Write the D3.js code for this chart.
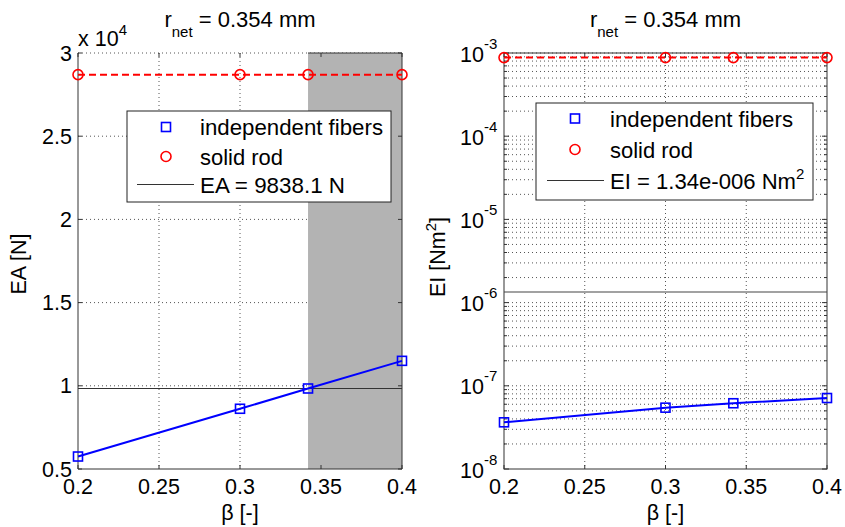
<!DOCTYPE html>
<html>
<head>
<meta charset="utf-8">
<script src="https://cdn.jsdelivr.net/npm/d3@7"></script>
<style>
  html, body { margin: 0; padding: 0; background: #fff; }
  svg { display: block; font-family: "Liberation Sans", Arial, Helvetica, sans-serif; }
</style>
</head>
<body>
<svg id="chart" width="845" height="527"></svg>
<script>
// Stiffness of a fibre bundle vs. packing parameter beta
const beta = [0.2, 0.3, 0.342, 0.4];
const eaFibers = [5750, 8620, 9838, 11500];
const eaRod = [28700, 28700, 28700, 28700];
const eaRef = 9838.1;
const eiFibers = [3.64e-8, 5.46e-8, 6.17e-8, 7.13e-8];
const eiRod = [8.8e-4, 8.8e-4, 8.8e-4, 8.8e-4];
const eiRef = 1.34e-6;
const shadeRange = [0.342, 0.4];
const xTicks = [0.2, 0.25, 0.3, 0.35, 0.4];
const xTickLabels = ["0.2", "0.25", "0.3", "0.35", "0.4"];
const eaTicks = [5000, 10000, 15000, 20000, 25000, 30000];
const eaTickLabels = ["0.5", "1", "1.5", "2", "2.5", "3"];
const eiDecades = [-8, -7, -6, -5, -4, -3];
const titleText = "r";
const titleSub = "net";
const titleRest = " = 0.354 mm";
const legendLabels = ["independent fibers", "solid rod"];

const svg = d3.select("#chart");
const FS = 21.5, FS_LEG = 22, FS_SMALL = 15;
const gridColor = "#555";
const boxColor = "#333";

const panels = [
  { x0: 78, x1: 402, y0: 53, y1: 469 },
  { x0: 504, x1: 827, y0: 53, y1: 469 }
];

function xScale(p) {
  return d3.scaleLinear().domain([0.2, 0.4]).range([p.x0, p.x1]);
}

function title(p) {
  const t = svg.append("text")
    .attr("x", (p.x0 + p.x1) / 2).attr("y", 27)
    .attr("text-anchor", "middle").attr("font-size", FS_LEG).attr("fill", "#000");
  t.append("tspan").text(titleText);
  t.append("tspan").attr("dy", 10).attr("font-size", FS_SMALL).text(titleSub);
  t.append("tspan").attr("dy", -10).text(titleRest);
}

function xGrid(p, x, g) {
  g.selectAll(".xgrid").data(xTicks.slice(1, -1)).join("line")
    .attr("x1", d => x(d)).attr("x2", d => x(d))
    .attr("y1", p.y0).attr("y2", p.y1)
    .attr("stroke", gridColor).attr("stroke-dasharray", "1,3");
}

function xLabels(p, x) {
  svg.append("g").selectAll("text").data(xTicks).join("text")
    .attr("x", d => x(d)).attr("y", 494)
    .attr("text-anchor", "middle").attr("font-size", FS)
    .text((d, i) => xTickLabels[i]);
  svg.append("text")
    .attr("x", (p.x0 + p.x1) / 2).attr("y", 520)
    .attr("text-anchor", "middle").attr("font-size", FS)
    .text("β [-]");
}

function xTickMarks(p, x, g) {
  xTicks.forEach(d => {
    g.append("line").attr("x1", x(d)).attr("x2", x(d)).attr("y1", p.y1).attr("y2", p.y1 - 4).attr("stroke", boxColor);
    g.append("line").attr("x1", x(d)).attr("x2", x(d)).attr("y1", p.y0).attr("y2", p.y0 + 4).attr("stroke", boxColor);
  });
}

function drawSeries(g, x, y, fibers, rod) {
  const line = d3.line().x((d, i) => x(beta[i])).y(d => y(d));
  g.append("path").datum(fibers).attr("d", line)
    .attr("fill", "none").attr("stroke", "#0000ff").attr("stroke-width", 2);
  g.selectAll(".sq").data(fibers).join("rect")
    .attr("x", (d, i) => x(beta[i]) - 4.5).attr("y", d => y(d) - 4.5)
    .attr("width", 9).attr("height", 9)
    .attr("fill", "none").attr("stroke", "#0000ff").attr("stroke-width", 1.6);
  g.append("path").datum(rod).attr("d", line)
    .attr("fill", "none").attr("stroke", "#ff0000").attr("stroke-width", 2)
    .attr("stroke-dasharray", "7,4");
  g.selectAll(".ci").data(rod).join("circle")
    .attr("cx", (d, i) => x(beta[i])).attr("cy", d => y(d)).attr("r", 5)
    .attr("fill", "none").attr("stroke", "#ff0000").attr("stroke-width", 1.6);
}

// legend entry widths (px) so the text fills the box as in the original layout
const legendWidths = [183, 83];

function legend(box, rows, refLabel, refSup, refWidth) {
  const g = svg.append("g");
  g.append("rect").attr("x", box.x).attr("y", box.y).attr("width", box.w).attr("height", box.h)
    .attr("fill", "#fff").attr("stroke", "#222").attr("stroke-width", 1);
  g.append("rect").attr("x", box.mx - 4.5).attr("y", rows[0] - 4.5).attr("width", 9).attr("height", 9)
    .attr("fill", "none").attr("stroke", "#0000ff").attr("stroke-width", 1.6);
  g.append("circle").attr("cx", box.mx).attr("cy", rows[1]).attr("r", 5)
    .attr("fill", "none").attr("stroke", "#ff0000").attr("stroke-width", 1.6);
  g.append("line").attr("x1", box.lx0).attr("x2", box.lx1).attr("y1", rows[2]).attr("y2", rows[2])
    .attr("stroke", "#333").attr("stroke-width", 1.2);
  legendLabels.forEach((s, i) => {
    g.append("text").attr("x", box.tx).attr("y", rows[i] + 8).attr("font-size", FS_LEG)
      .attr("textLength", legendWidths[i]).attr("lengthAdjust", "spacingAndGlyphs").text(s);
  });
  const t = g.append("text").attr("x", box.tx).attr("y", rows[2] + 8).attr("font-size", FS_LEG);
  t.append("tspan").attr("textLength", refWidth).attr("lengthAdjust", "spacingAndGlyphs").text(refLabel);
  if (refSup) t.append("tspan").attr("dy", -10).attr("font-size", FS_SMALL).text(refSup);
}

// ---------- left panel: axial stiffness ----------
{
  const p = panels[0];
  const x = xScale(p);
  const y = d3.scaleLinear().domain([5000, 30000]).range([p.y1, p.y0]);
  const g = svg.append("g");
  g.append("rect").attr("x", p.x0).attr("y", p.y0).attr("width", p.x1 - p.x0).attr("height", p.y1 - p.y0).attr("fill", "#fff");
  xGrid(p, x, g);
  g.selectAll(".ygrid").data(eaTicks.slice(1)).join("line")
    .attr("x1", p.x0).attr("x2", p.x1).attr("y1", d => y(d)).attr("y2", d => y(d))
    .attr("stroke", gridColor).attr("stroke-dasharray", "1,3");
  // shaded band
  g.append("rect").attr("x", x(shadeRange[0])).attr("y", p.y0)
    .attr("width", x(shadeRange[1]) - x(shadeRange[0])).attr("height", p.y1 - p.y0)
    .attr("fill", "#b3b3b3");
  // box
  g.append("line").attr("x1", p.x0).attr("x2", p.x0).attr("y1", p.y0).attr("y2", p.y1).attr("stroke", boxColor);
  g.append("line").attr("x1", p.x1).attr("x2", p.x1).attr("y1", p.y0).attr("y2", p.y1).attr("stroke", boxColor);
  g.append("line").attr("x1", p.x0).attr("x2", p.x1).attr("y1", p.y1).attr("y2", p.y1).attr("stroke", boxColor);
  g.append("line").attr("x1", x(shadeRange[0])).attr("x2", p.x1).attr("y1", p.y0).attr("y2", p.y0).attr("stroke", boxColor);
  xTickMarks(p, x, g);
  eaTicks.forEach(d => {
    g.append("line").attr("x1", p.x0).attr("x2", p.x0 + 4).attr("y1", y(d)).attr("y2", y(d)).attr("stroke", boxColor);
    g.append("line").attr("x1", p.x1).attr("x2", p.x1 - 4).attr("y1", y(d)).attr("y2", y(d)).attr("stroke", boxColor);
  });
  // reference stiffness
  g.append("line").attr("x1", p.x0).attr("x2", p.x1).attr("y1", y(eaRef)).attr("y2", y(eaRef))
    .attr("stroke", "#333").attr("stroke-width", 1.2);
  drawSeries(g, x, y, eaFibers, eaRod);

  svg.append("g").selectAll("text").data(eaTicks).join("text")
    .attr("x", 72).attr("y", d => y(d) + 7.5)
    .attr("text-anchor", "end").attr("font-size", FS)
    .text((d, i) => eaTickLabels[i]);
  const m = svg.append("text").attr("x", 78).attr("y", 46).attr("font-size", FS);
  m.append("tspan").text("x 10");
  m.append("tspan").attr("dy", -11).attr("font-size", FS_SMALL).text("4");
  svg.append("text").attr("transform", `translate(26,${(p.y0 + p.y1) / 2 + 3}) rotate(-90)`)
    .attr("text-anchor", "middle").attr("font-size", FS).text("EA [N]");
  xLabels(p, x);
  title(p);
  legend({ x: 127, y: 111, w: 264, h: 91, mx: 166, lx0: 137, lx1: 194, tx: 200 },
    [127, 156.5, 184.5], "EA = " + eaRef + " N", null, 145);
}

// ---------- right panel: bending stiffness ----------
{
  const p = panels[1];
  const x = xScale(p);
  const y = d3.scaleLog().domain([1e-8, 1e-3]).range([p.y1, p.y0]);
  const g = svg.append("g");
  g.append("rect").attr("x", p.x0).attr("y", p.y0).attr("width", p.x1 - p.x0).attr("height", p.y1 - p.y0).attr("fill", "#fff");
  xGrid(p, x, g);
  const majors = eiDecades.map(k => Math.pow(10, k));
  const minors = [];
  eiDecades.slice(0, -1).forEach(k => { for (let m = 2; m <= 9; m++) minors.push(m * Math.pow(10, k)); });
  g.selectAll(".ygrid").data(majors.slice(1).concat(minors)).join("line")
    .attr("x1", p.x0).attr("x2", p.x1).attr("y1", d => y(d)).attr("y2", d => y(d))
    .attr("stroke", gridColor).attr("stroke-dasharray", "1,3");
  g.append("rect").attr("x", p.x0).attr("y", p.y0).attr("width", p.x1 - p.x0).attr("height", p.y1 - p.y0)
    .attr("fill", "none").attr("stroke", boxColor);
  xTickMarks(p, x, g);
  majors.forEach(d => {
    g.append("line").attr("x1", p.x0).attr("x2", p.x0 + 5).attr("y1", y(d)).attr("y2", y(d)).attr("stroke", boxColor);
    g.append("line").attr("x1", p.x1).attr("x2", p.x1 - 5).attr("y1", y(d)).attr("y2", y(d)).attr("stroke", boxColor);
  });
  minors.forEach(d => {
    g.append("line").attr("x1", p.x0).attr("x2", p.x0 + 3).attr("y1", y(d)).attr("y2", y(d)).attr("stroke", boxColor);
    g.append("line").attr("x1", p.x1).attr("x2", p.x1 - 3).attr("y1", y(d)).attr("y2", y(d)).attr("stroke", boxColor);
  });
  g.append("line").attr("x1", p.x0).attr("x2", p.x1).attr("y1", y(eiRef)).attr("y2", y(eiRef))
    .attr("stroke", "#444").attr("stroke-width", 1.2);
  drawSeries(g, x, y, eiFibers, eiRod);

  const lab = svg.append("g").selectAll("text").data(eiDecades).join("text")
    .attr("x", 460).attr("y", d => y(Math.pow(10, d)) + 8.5).attr("font-size", FS);
  lab.append("tspan").text("10");
  lab.append("tspan").attr("dy", -13).attr("font-size", FS_SMALL).text(d => "-" + Math.abs(d));
  const yl = svg.append("text").attr("transform", `translate(445,${(p.y0 + p.y1) / 2 - 4}) rotate(-90)`)
    .attr("text-anchor", "middle").attr("font-size", FS);
  yl.append("tspan").text("EI [Nm");
  yl.append("tspan").attr("dy", -9).attr("font-size", FS_SMALL).text("2");
  yl.append("tspan").attr("dy", 9).text("]");
  xLabels(p, x);
  title(p);
  legend({ x: 536, y: 103, w: 277, h: 97, mx: 575, lx0: 547, lx1: 604, tx: 610 },
    [118.5, 149.5, 180.5], "EI = 1.34e-006 Nm", "2", 186);
}
</script>
</body>
</html>
